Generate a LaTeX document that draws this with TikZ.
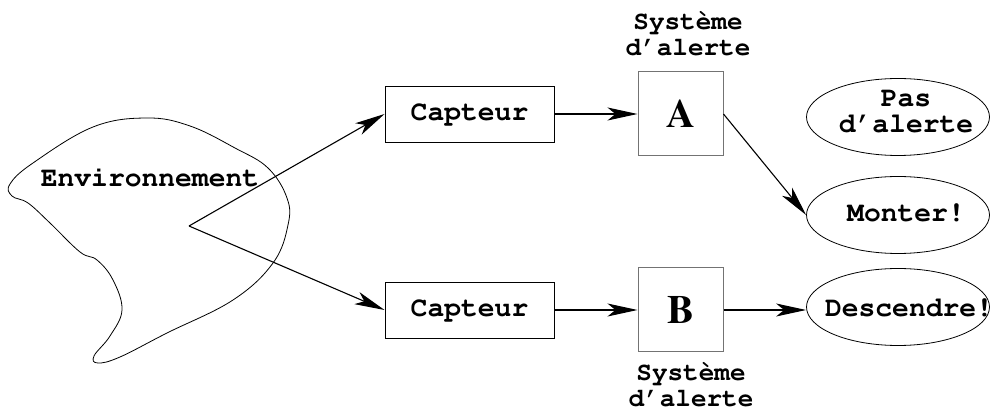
\documentclass[tikz,border=0pt]{standalone}
\usepackage[T1]{fontenc}
\usetikzlibrary{arrows.meta,shapes.geometric}
\newcommand{\courb}[2]{\fontencoding{T1}\fontfamily{pcr}\fontseries{b}\fontsize{#1}{#2}\selectfont}
\newcommand{\timesb}[1]{\fontencoding{T1}\fontfamily{ptm}\fontseries{b}\fontsize{#1}{#1}\selectfont}
\begin{document}
\begin{tikzpicture}[x=1pt,y=-1pt,
  lbl/.style={font=\courb{28}{26}, inner sep=0pt, align=center},
  syslbl/.style={font=\courb{26}{26}, inner sep=0pt, align=center},
  capbox/.style={draw, line width=0.9pt, minimum width=169pt, minimum height=56pt, inner sep=0pt,
    font=\courb{28}{29}},
  sysbox/.style={draw=black!55, line width=1pt, minimum width=85pt, minimum height=84pt, inner sep=0pt,
    font=\timesb{40}},
  outell/.style={ellipse, draw, line width=0.8pt, minimum width=183pt, minimum height=77pt, inner sep=0pt},
  arr/.style={-{Stealth[length=30pt,width=13pt,inset=8pt]}, line width=1.1pt}]
\useasboundingbox (0,0) rectangle (994,411);
% environment blob
\draw[line width=0.8pt] plot[smooth cycle, tension=0.65] coordinates {
  (147,118) (190,126) (235,148) (268,168) (287,198) (288,225) (273,263) (233,300)
  (167,333) (120,357) (98,363) (94,356) (110,336) (122,310) (113,280) (97,260)
  (80,252) (50,223) (28,203) (12,196) (10,184) (33,163) (93,127)};
\node[lbl] (envlbl) at (150,177) {Environnement};
\coordinate (src) at (189,226);
% sensors
\node[capbox] (capA) at (469.5,114) {Capteur};
\node[capbox] (capB) at (469.5,310) {Capteur};
% alert systems
\node[sysbox] (sysA) at (680.5,114) {A};
\node[sysbox] (sysB) at (680.5,310) {B};
\node[syslbl] (sysAlbl) at (688,34) {Système\\d'alerte};
\node[syslbl] (sysBlbl) at (691,385) {Système\\d'alerte};
% outputs
\node[outell] (pas) at (898,117) {};
\node[outell] (mont) at (898,215) {};
\node[outell] (desc) at (898,307) {};
\node[lbl] (paslbl) at (906,112) {Pas\\d'alerte};
\node[lbl] (montlbl) at (906,214) {Monter!};
\node[lbl] (desclbl) at (909,308) {Descendre!};
% connectors
\draw[arr] (src) -- (capA.west);
\draw[arr] (src) -- (capB.west);
\draw[arr] (capA.east) -- (sysA.west);
\draw[arr] (capB.east) -- (sysB.west);
\draw[arr] (sysA.east) -- (mont.west);
\draw[arr] (sysB.east) -- (sysB.east -| desc.west);
\end{tikzpicture}
\end{document}
